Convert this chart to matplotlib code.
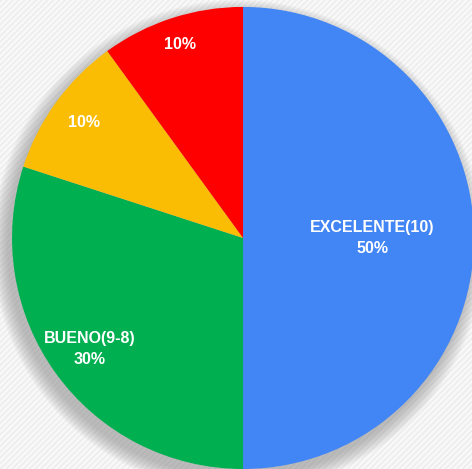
import numpy as np
import matplotlib
matplotlib.use('Agg')
import matplotlib.pyplot as plt
from matplotlib.patches import Circle

plt.rcParams['font.family'] = ['Liberation Sans', 'DejaVu Sans']

# data
names = ['EXCELENTE(10)', 'BUENO(9-8)', 'REGULAR', 'INSUFICIENTE']
values = [50, 30, 10, 10]
show_name = [True, True, False, False]
colors = ['#4285F4', '#00B050', '#FBBC04', '#FF0000']
label_r = [0.56, 0.82, 0.85, 0.88]

fig = plt.figure(figsize=(4.72, 4.69), dpi=100)
fig.patch.set_facecolor('#f8f8f8')
ax = fig.add_axes([0, 0, 1, 1])
ax.set_facecolor('#f8f8f8')

# faint diagonal stripes in background
for c in np.arange(-3, 3, 0.025):
    ax.plot([c - 1.5, c + 1.5], [-1.5, 1.5], color='#ebebeb', lw=0.9, zorder=0)

# soft shadow behind the pie
for k in range(14):
    ax.add_patch(Circle((-0.02, -0.035), 1.0 + 0.005 * k, color='#8a8a8a',
                        alpha=0.05, lw=0, zorder=1))

wedges, _ = ax.pie(values, colors=colors, startangle=90, counterclock=False,
                   radius=1.0, wedgeprops=dict(linewidth=0, zorder=2))
for w in wedges:
    w.set_zorder(2)

for w, n, v, s, r in zip(wedges, names, values, show_name, label_r):
    ang = np.deg2rad((w.theta1 + w.theta2) / 2)
    txt = '{}\n{}%'.format(n, v) if s else '{}%'.format(v)
    ax.text(r * np.cos(ang), r * np.sin(ang), txt, ha='center', va='center',
            color='white', fontsize=11.5, fontweight='bold', linespacing=1.5,
            zorder=3)

ax.set_xlim(-1.052, 0.991)
ax.set_ylim(-1.0, 1.030)
ax.set_aspect('auto')
ax.axis('off')

plt.savefig('out.png', dpi=100, facecolor=fig.get_facecolor())
